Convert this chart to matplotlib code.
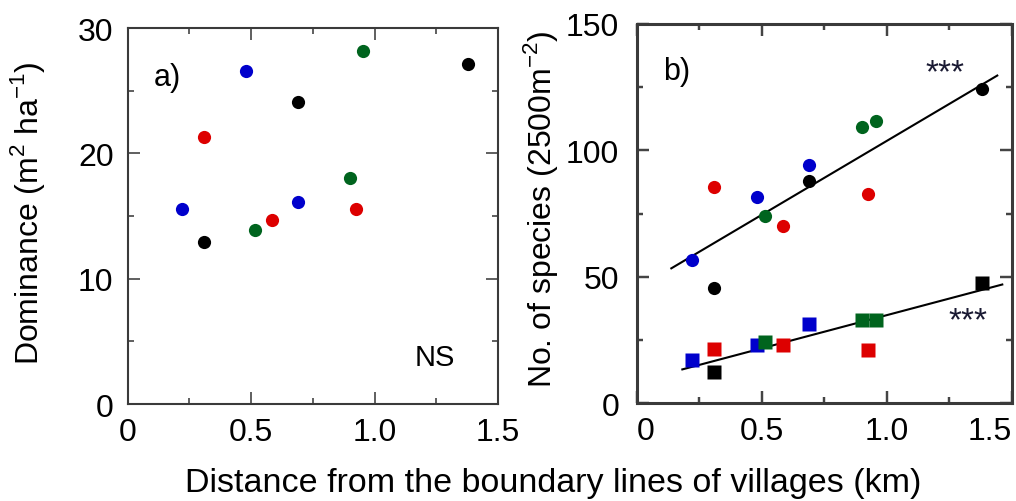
import matplotlib
matplotlib.use("Agg")
import matplotlib.pyplot as plt
import numpy as np
from matplotlib.ticker import MultipleLocator


plt.rcParams.update({
    "font.family": ["Liberation Sans", "DejaVu Sans"],
    "mathtext.fontset": "custom",
    "mathtext.rm": "Liberation Sans",
    "font.size": 21,
    "xtick.direction": "in",
    "ytick.direction": "in",
    "xtick.top": True,
    "ytick.right": True,
})


##############################################################
# DATA (distance in km, one list per village / colour)
##############################################################

colors = ["black", "#0000cc", "#dd0000", "#00641e"]

dist_black = [0.31, 0.69, 1.38]
dist_blue = [0.22, 0.48, 0.69]
dist_red = [0.31, 0.585, 0.925]
dist_green = [0.515, 0.90, 0.955]

# a) dominance (m2 ha-1)
dom_black = [12.96, 24.1, 27.1]
dom_blue = [15.56, 26.6, 16.1]
dom_red = [21.3, 14.7, 15.56]
dom_green = [13.9, 18.07, 28.2]

# b) number of species, circles
spc_black = [45.4, 87.7, 124.4]
spc_blue = [56.6, 81.5, 94.0]
spc_red = [85.3, 70.2, 82.8]
spc_green = [74.0, 109.2, 111.7]

# b) number of species, squares
sq_black = [12.3, np.nan, 47.3]
sq_blue = [17.2, 22.9, 31.3]
sq_red = [21.2, 22.9, 20.9]
sq_green = [24.2, 33.0, 33.0]

# regression lines in b)
fit_upper_x = [0.139, 1.441]
fit_upper_y = [53.3, 129.6]
fit_lower_x = [0.183, 1.461]
fit_lower_y = [13.3, 46.9]

dists = [dist_black, dist_blue, dist_red, dist_green]


##############################################################
# AXES STYLE
##############################################################

def style_axes(ax, ymax, ystep, lw, ypad):
    ax.set_xlim(0, 1.5)
    ax.set_ylim(0, ymax)
    ax.xaxis.set_major_locator(MultipleLocator(0.5))
    ax.xaxis.set_minor_locator(MultipleLocator(0.25))
    ax.yaxis.set_major_locator(MultipleLocator(ystep))
    ax.yaxis.set_minor_locator(MultipleLocator(ystep / 2))
    ax.set_xticks([0, 0.5, 1.0, 1.5])
    ax.set_xticklabels(["0", "0.5", "1.0", "1.5"])
    ax.tick_params(which="major", length=8.5, width=lw * 0.8, color="#444444",
                   labelsize=23)
    ax.tick_params(which="minor", length=4.5, width=lw * 0.8, color="#444444")
    ax.tick_params(axis="x", which="both", top=True, pad=9.5)
    ax.tick_params(axis="y", which="both", right=True, pad=ypad)
    for s in ax.spines.values():
        s.set_linewidth(lw)
        s.set_color("#3a3a3a")


fig = plt.figure(figsize=(10.16, 5.02), dpi=100)

##############################################################
# a) DOMINANCE
##############################################################

ax1 = fig.add_axes([0.1255, 0.1932, 0.3647, 0.749])

for d, v, c in zip(dists, [dom_black, dom_blue, dom_red, dom_green], colors):
    ax1.plot(d, v, "o", color=c, ms=9.5, mec="none", zorder=3)

style_axes(ax1, 30, 10, 1.5, 10)
ax1.text(0.07, 0.87, "a)", transform=ax1.transAxes, fontsize=22, va="center")
ax1.text(0.775, 0.125, "NS", transform=ax1.transAxes, fontsize=21, va="center")

##############################################################
# b) SPECIES
##############################################################

ax2 = fig.add_axes([0.6265, 0.1952, 0.3696, 0.755])

ax2.plot(fit_upper_x, fit_upper_y, color="black", lw=1.5, zorder=2)
ax2.plot(fit_lower_x, fit_lower_y, color="black", lw=1.5, zorder=2)

for d, v, c in zip(dists, [spc_black, spc_blue, spc_red, spc_green], colors):
    ax2.plot(d, v, "o", color=c, ms=9.5, mec="none", zorder=3)

for d, v, c in zip(dists, [sq_black, sq_blue, sq_red, sq_green], colors):
    ax2.plot(d, v, "s", color=c, ms=10, mec="none", zorder=3)

style_axes(ax2, 150, 50, 2.2, 12.5)
# last x label sits against the image edge in the original
ax2.get_xticklabels()[-1].set_horizontalalignment("right")
ax2.get_xticklabels()[0].set_horizontalalignment("left")
ax2.text(0.07, 0.875, "b)", transform=ax2.transAxes, fontsize=22, va="center")
ax2.text(945 / 1016, 1 - 74 / 502, "***", transform=fig.transFigure,
         fontsize=24, ha="center", va="center", color="#1a1a33")
ax2.text(968 / 1016, 1 - 322 / 502, "***", transform=fig.transFigure,
         fontsize=24, ha="center", va="center", color="#1a1a33")

##############################################################
# LABELS
##############################################################

fig.text(28 / 1016, 1 - 213 / 502, "Dominance (m$^{2}$ ha$^{\\mathregular{-1}}$)",
         rotation=90, ha="center", va="center", fontsize=23)
fig.text(540 / 1016, 1 - 209 / 502, "No. of species (2500m$^{\\mathregular{-2}}$)",
         rotation=90, ha="center", va="center", fontsize=23)
fig.text(553 / 1016, 1 - 484 / 502,
         "Distance from the boundary lines of villages (km)",
         ha="center", va="center", fontsize=24.5)

fig.savefig("out.png", dpi=100)
plt.close(fig)
